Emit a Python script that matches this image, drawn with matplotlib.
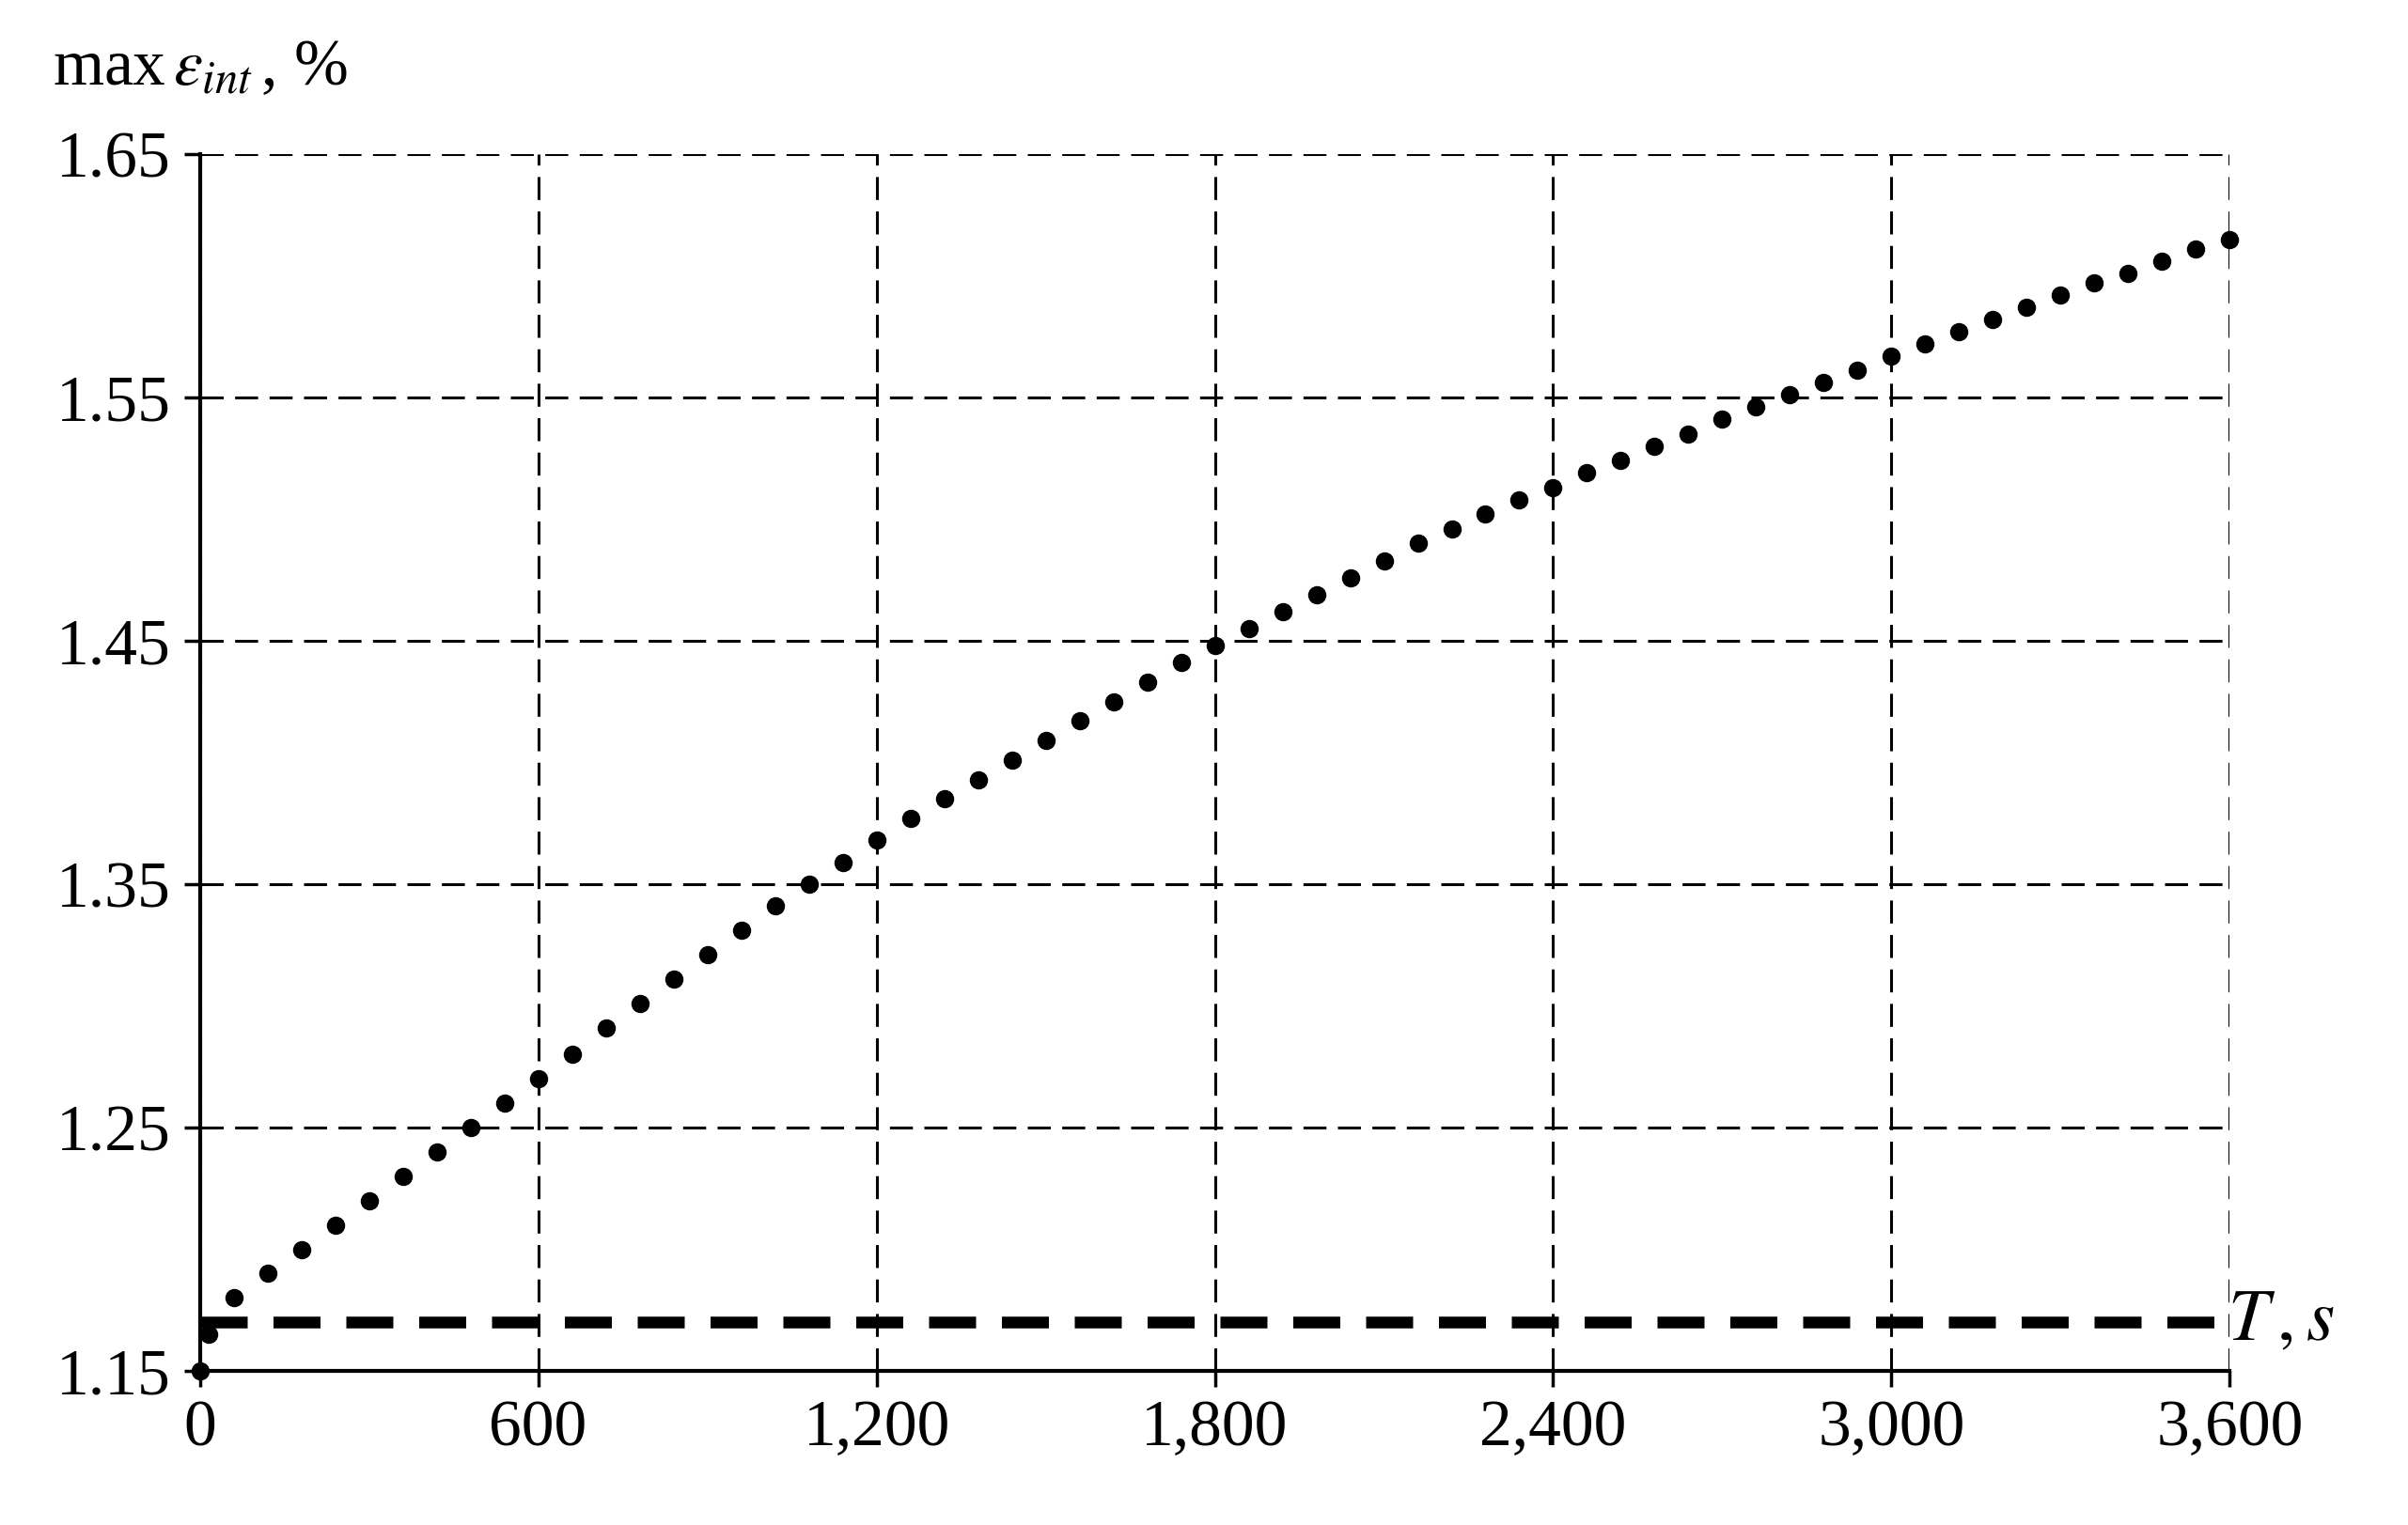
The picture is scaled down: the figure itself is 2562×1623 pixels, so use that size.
import matplotlib
matplotlib.use("Agg")
import matplotlib.pyplot as plt

plt.rcParams["font.family"] = ["Liberation Serif", "DejaVu Serif"]
plt.rcParams["mathtext.fontset"] = "stix"

# dotted series: max strain vs time, one dot per 60 s
t_dots = [0, 15] + list(range(60, 3601, 60))
eps_dots = [1.150, 1.165,
            1.180, 1.190, 1.200, 1.210, 1.220, 1.230, 1.240, 1.250, 1.260, 1.270,
            1.280, 1.291, 1.301, 1.311, 1.321, 1.331, 1.341, 1.350, 1.359, 1.368,
            1.377, 1.385, 1.393, 1.401, 1.409, 1.417, 1.425, 1.433, 1.441, 1.448,
            1.455, 1.462, 1.469, 1.476, 1.483, 1.490, 1.496, 1.502, 1.508, 1.513,
            1.519, 1.524, 1.530, 1.535, 1.541, 1.546, 1.551, 1.556, 1.561, 1.567,
            1.572, 1.577, 1.582, 1.587, 1.592, 1.597, 1.601, 1.606, 1.611, 1.615]

# dashed constant series
t_line = [0, 3600]
eps_line = [1.17, 1.17]

x_ticks = [0, 600, 1200, 1800, 2400, 3000, 3600]
x_labels = ["0", "600", "1,200", "1,800", "2,400", "3,000", "3,600"]
y_ticks = [1.15, 1.25, 1.35, 1.45, 1.55, 1.65]

fig = plt.figure(figsize=(25.62, 16.23), dpi=100)
ax = fig.add_axes([0.083, 0.101, 0.843, 0.798])

ax.plot(t_dots, eps_dots, "o", color="black", markersize=13, clip_on=False, zorder=3)
ax.plot(t_line, eps_line, color="black", lw=9, dashes=(4, 2.2), zorder=3)

ax.set_xlim(0, 3600)
ax.set_ylim(1.15, 1.65)
ax.set_xticks(x_ticks)
ax.set_xticklabels(x_labels)
ax.set_yticks(y_ticks)
ax.set_yticklabels([f"{v:.2f}" for v in y_ticks])
ax.tick_params(labelsize=50, length=12, width=2.5, direction="out", pad=10)

ax.grid(True, color="black", lw=2.2, ls=(0, (8, 4)))
ax.spines["top"].set_visible(False)
ax.spines["right"].set_visible(False)
for s in ("left", "bottom"):
    ax.spines[s].set_linewidth(3)

fig.text(0.022, 0.955, r"max$\,\varepsilon_{int}\,$, %", fontsize=50, va="center")
ax.text(1.025, 0.04, r"$T\,,s$", transform=ax.transAxes, fontsize=56, va="center", ha="center")

fig.savefig("out.png", dpi=100)
